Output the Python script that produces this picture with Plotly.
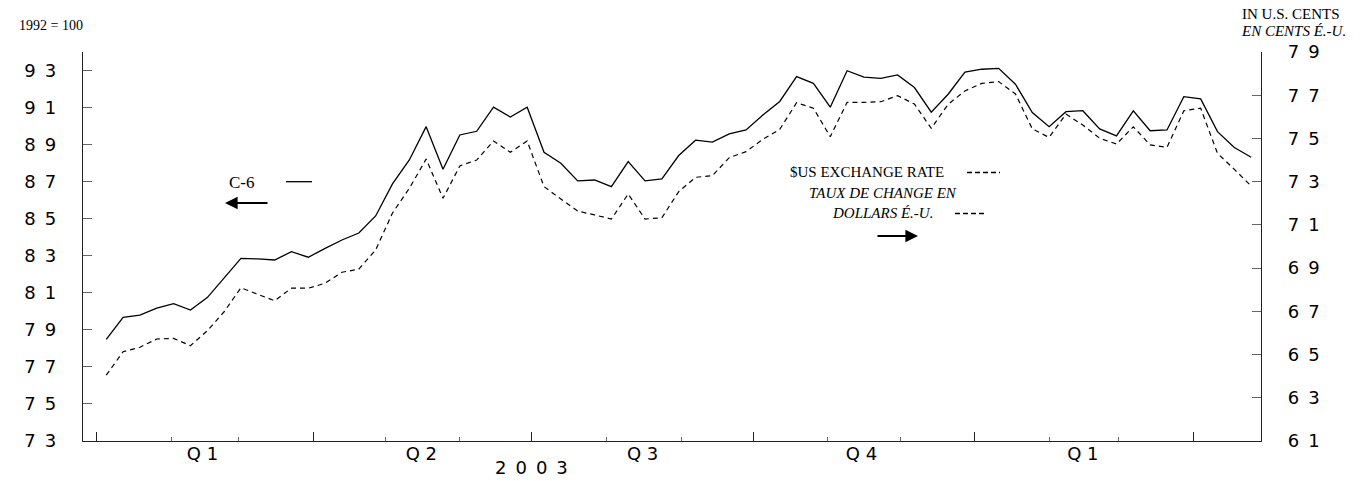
import pandas as pd
import plotly.graph_objects as go

# ---------------- data ----------------
week_start = "2003-01-05"
n_weeks = 69
c6_index = [78.49, 79.68, 79.79, 80.17, 80.41, 80.07, 80.74, 81.79, 82.86, 82.83,
            82.77, 83.22, 82.92, 83.40, 83.85, 84.23, 85.15, 86.88, 88.17, 89.97,
            87.67, 89.52, 89.72, 91.02, 90.49, 91.02, 88.59, 87.99, 87.04, 87.09,
            86.73, 88.08, 87.04, 87.15, 88.41, 89.24, 89.14, 89.58, 89.79, 90.60,
            91.33, 92.67, 92.31, 91.02, 92.99, 92.64, 92.58, 92.76, 92.08, 90.75,
            91.72, 92.91, 93.07, 93.12, 92.26, 90.73, 89.97, 90.78, 90.83, 89.85,
            89.47, 90.82, 89.75, 89.79, 91.59, 91.47, 89.70, 88.84, 88.32]
usd_rate = [64.05, 65.13, 65.34, 65.72, 65.75, 65.41, 66.10, 66.98, 68.09, 67.80,
            67.49, 68.07, 68.07, 68.30, 68.81, 68.95, 69.84, 71.55, 72.69, 74.05,
            72.23, 73.73, 74.00, 74.88, 74.36, 74.88, 72.77, 72.20, 71.64, 71.46,
            71.27, 72.43, 71.27, 71.33, 72.54, 73.20, 73.28, 74.11, 74.39, 74.96,
            75.42, 76.65, 76.40, 75.08, 76.67, 76.67, 76.70, 76.98, 76.59, 75.47,
            76.58, 77.20, 77.55, 77.63, 77.06, 75.44, 75.05, 76.13, 75.62, 75.01,
            74.74, 75.54, 74.70, 74.59, 76.28, 76.40, 74.31, 73.57, 72.80]
left_ticks = [73, 75, 77, 79, 81, 83, 85, 87, 89, 91, 93]
right_ticks = [61, 63, 65, 67, 69, 71, 73, 75, 77, 79]
quarter_mid = ["2003-02-14", "2003-05-16", "2003-08-16", "2003-11-15", "2004-02-15"]
quarter_labels = ["Q1", "Q2", "Q3", "Q4", "Q1"]
year_label = "2003"
year_pos = "2003-07-01"
x_range = ["2002-12-26 08:00", "2004-04-29 02:00"]

dates = pd.date_range(week_start, periods=n_weeks, freq="7D")

SP = "\u2002"
def spaced(s):
    return SP.join(list(str(s)))

W, H = 1365, 481
L, R, T, B = 83, 1261, 52, 441
def px(x):
    return (x - L) / (R - L)
def py(y):
    return (B - y) / (B - T)

AX = "#222222"
TK = "#666666"
TICKFONT = dict(family="DejaVu Sans", size=18, color="black")
SERIF = "Liberation Serif"

fig = go.Figure()
fig.add_trace(go.Scatter(x=dates, y=c6_index, mode="lines", xaxis="x", yaxis="y",
                         line=dict(color="black", width=1.3), name="C-6"))
fig.add_trace(go.Scatter(x=dates, y=usd_rate, mode="lines", xaxis="x2", yaxis="y2",
                         line=dict(color="black", width=1.2, dash="5px,4px"),
                         name="$US exchange rate"))

fig.update_layout(
    width=W, height=H,
    margin=dict(l=L, r=W - R, t=T, b=H - B, autoexpand=False),
    paper_bgcolor="white", plot_bgcolor="white",
    showlegend=False,
    xaxis=dict(type="date", range=x_range, showgrid=False, zeroline=False,
               automargin=False,
               showline=True, linecolor=AX, linewidth=1.3,
               tickmode="linear", tick0="2003-01-01", dtick="M3",
               ticks="inside", ticklen=9, tickcolor=AX, tickwidth=1.3,
               showticklabels=False,
               minor=dict(tickmode="linear", tick0="2003-01-01", dtick="M1",
                          ticks="inside", ticklen=4, tickcolor=TK, tickwidth=1)),
    xaxis2=dict(type="date", range=x_range, overlaying="x", anchor="y2",
                side="bottom", showgrid=False, zeroline=False, showline=False,
                automargin=False,
                tickmode="array", tickvals=quarter_mid,
                ticktext=[q[0] + " " + q[1] for q in quarter_labels],
                ticks="", tickfont=TICKFONT, ticklabelstandoff=0),
    yaxis=dict(range=[73, 94], showgrid=False, zeroline=False,
               automargin=False,
               showline=True, linecolor=AX, linewidth=1.3,
               tickmode="array", tickvals=left_ticks,
               ticktext=[spaced(v) for v in left_ticks],
               ticks="inside", ticklen=9, tickcolor=TK, tickwidth=1,
               tickfont=TICKFONT, ticklabelstandoff=22),
    yaxis2=dict(range=[61, 79], overlaying="y", side="right", anchor="x2",
                showgrid=False, zeroline=False, automargin=False,
                showline=True, linecolor=AX, linewidth=1.3,
                tickmode="array", tickvals=right_ticks,
                ticktext=[spaced(v) for v in right_ticks],
                ticks="inside", ticklen=9, tickcolor=TK, tickwidth=1,
                tickfont=TICKFONT, ticklabelstandoff=22),
)

ann = []
def text(x, y, s, size=15, italic=False, xanchor="left"):
    if italic:
        s = "<i>" + s + "</i>"
    ann.append(dict(xref="paper", yref="paper", x=px(x), y=py(y), text=s,
                    showarrow=False, xanchor=xanchor, yanchor="middle",
                    font=dict(family=SERIF, size=size, color="black")))

text(17, 25, "1992 = 100", size=14)
text(1240, 14, "IN U.S. CENTS", size=15)
text(1239, 31, "EN CENTS É.-U.", size=15, italic=True)
text(227, 182, "C-6", size=17)
text(788, 172, "$US EXCHANGE RATE", size=15)
text(807, 193, "TAUX DE CHANGE EN", size=15, italic=True)
text(830, 213, "DOLLARS É.-U.", size=15, italic=True)

# arrows
def arrow(x_head, x_tail, y):
    ann.append(dict(xref="paper", yref="paper", x=px(x_head), y=py(y),
                    ax=x_tail - x_head, ay=0, axref="pixel", ayref="pixel",
                    text="", showarrow=True, arrowhead=2, arrowsize=1.4,
                    arrowwidth=1.8, arrowcolor="black"))
arrow(225, 269, 203)
arrow(918, 876, 236)

# year label under the quarters
ann.append(dict(xref="x", yref="paper", x=year_pos, y=py(467), text=spaced(year_label),
                showarrow=False, xanchor="center", yanchor="middle", font=TICKFONT))

shapes = [
    dict(type="line", xref="paper", yref="paper", x0=px(286), x1=px(312),
         y0=py(181.7), y1=py(181.7), line=dict(color="black", width=1.3)),
    dict(type="line", xref="paper", yref="paper", x0=px(967), x1=px(1000),
         y0=py(172.5), y1=py(172.5), line=dict(color="black", width=1.3, dash="5px,3px")),
    dict(type="line", xref="paper", yref="paper", x0=px(955), x1=px(984),
         y0=py(213.5), y1=py(213.5), line=dict(color="black", width=1.3, dash="5px,3px")),
]
fig.update_layout(annotations=ann, shapes=shapes)

fig.write_html("out.html", config={"displayModeBar": False},
               post_script="document.body.style.margin='0';document.body.style.overflow='hidden';")
